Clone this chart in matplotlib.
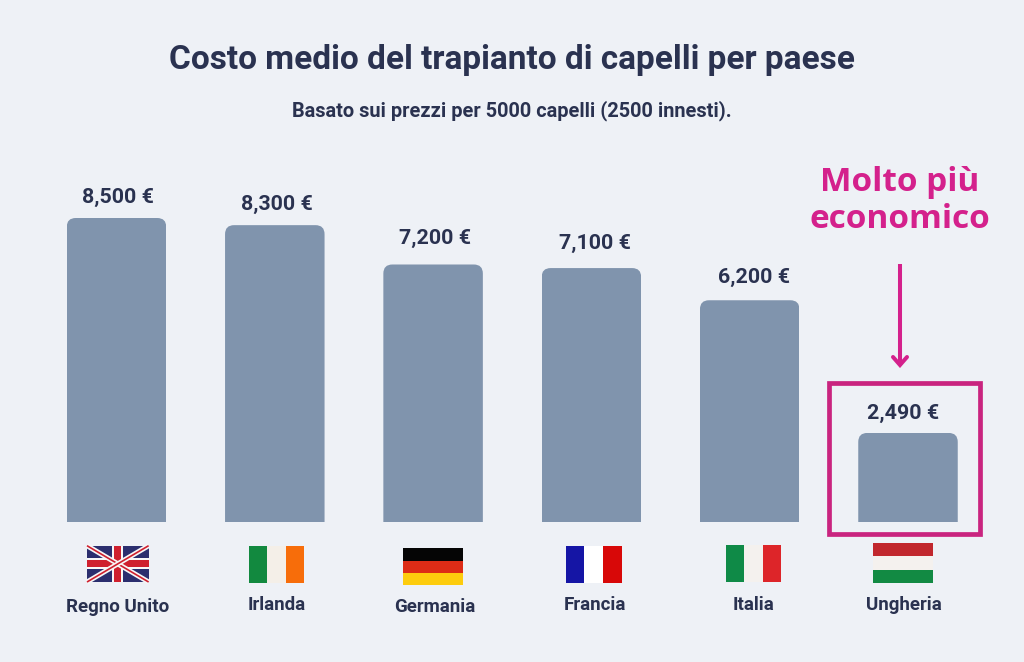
import matplotlib

matplotlib.use("Agg")
import matplotlib.pyplot as plt
from matplotlib.patches import FancyBboxPatch, Rectangle

COUNTRIES = ["Regno Unito", "Irlanda", "Germania", "Francia", "Italia", "Ungheria"]
COSTS = [8500, 8300, 7200, 7100, 6200, 2490]

TITLE = "Costo medio del trapianto di capelli per paese"
SUBTITLE = "Basato sui prezzi per 5000 capelli (2500 innesti)."
CALLOUT = "Molto più\neconomico"

BG = "#eef1f6"
BAR = "#8094ad"
DARK = "#2a3250"
PINK = "#d4218c"
BOX_PINK = "#c9247f"

# pixel layout of the original
W, H = 1024, 662
BASE_PX = 522
FIRST_PX = 116.5
STEP_PX = 158.3
PX_PER_EUR = 304 / 8500
BAR_WIDTH = 99.5 / STEP_PX
VALUE_DX = [1.5, 2, 1.5, 3.5, 4.5, -5]
VALUE_DY = [21, 21, 26.5, 25, 23, 20]
NAME_X = [118, 277, 435, 595, 754, 904]
NAME_Y = [607, 605, 607, 605, 605, 605]

fig = plt.figure(figsize=(W / 100, H / 100), dpi=100, facecolor=BG)
plt.rcParams["font.family"] = ["Roboto", "DejaVu Sans"]

# bars axes, spans the whole figure so bars land on the same pixels
ax = fig.add_axes([0, 0, 1, 1], facecolor="none")
ax.set_xlim(-FIRST_PX / STEP_PX, (W - FIRST_PX) / STEP_PX)
ax.set_ylim(-(H - BASE_PX) / PX_PER_EUR, BASE_PX / PX_PER_EUR)
ax.axis("off")

radius_x = 9 / STEP_PX
aspect = (1 / PX_PER_EUR) / (1 / STEP_PX)
for i, (cost, dx, dy) in enumerate(zip(COSTS, VALUE_DX, VALUE_DY)):
    # rounded top only: the box runs past the baseline and gets clipped there
    box = FancyBboxPatch(
        (i - BAR_WIDTH / 2, -500),
        BAR_WIDTH,
        cost + 500,
        boxstyle=f"round,pad=0,rounding_size={radius_x}",
        mutation_aspect=aspect,
        fc=BAR,
        ec="none",
    )
    ax.add_patch(box)
    clip = Rectangle(
        (i - BAR_WIDTH / 2, 0), BAR_WIDTH, cost, transform=ax.transData
    )
    box.set_clip_path(clip)
    ax.annotate(
        f"{cost:,} €",
        (i, cost),
        xytext=(dx * 0.72, dy * 0.72),
        textcoords="offset points",
        ha="center",
        va="center",
        fontsize=15.4,
        fontweight="bold",
        color=DARK,
    )

# overlay in pixels for the decorations
px = fig.add_axes([0, 0, 1, 1], facecolor="none")
px.set_xlim(0, W)
px.set_ylim(H, 0)
px.axis("off")


def rect(x0, y0, x1, y1, color):
    px.add_patch(Rectangle((x0, y0), x1 - x0, y1 - y0, fc=color, ec="none"))


def vstripes(x0, y0, x1, y1, colors):
    step = (x1 - x0) / 3
    for k, c in enumerate(colors):
        rect(x0 + k * step, y0, x0 + (k + 1) * step, y1, c)


def hstripes(x0, y0, x1, y1, colors):
    step = (y1 - y0) / 3
    for k, c in enumerate(colors):
        rect(x0, y0 + k * step, x1, y0 + (k + 1) * step, c)


def union_jack(x0, y0, x1, y1):
    blue, red, white = "#2b2e6e", "#cf202e", "#f7f7f7"
    cx, cy = (x0 + x1) / 2, (y0 + y1) / 2
    rect(x0, y0, x1, y1, blue)
    clip = Rectangle((x0, y0), x1 - x0, y1 - y0, transform=px.transData)
    for ys in [(y0, y1), (y1, y0)]:
        px.plot([x0, x1], ys, color=white, lw=3.6, solid_capstyle="butt", clip_path=clip)
        px.plot([x0, x1], ys, color=red, lw=1.2, solid_capstyle="butt", clip_path=clip)
    rect(cx - 5.5, y0, cx + 5.5, y1, white)
    rect(x0, cy - 5.5, x1, cy + 5.5, white)
    rect(cx - 3.5, y0, cx + 3.5, y1, red)
    rect(x0, cy - 3.5, x1, cy + 3.5, red)


union_jack(87, 545.7, 148.6, 582)
vstripes(248.7, 545.5, 304, 582.5, ["#12893f", "#f4efe8", "#f76d0a"])
hstripes(402.7, 548.3, 463.3, 585, ["#050505", "#dd2c16", "#fdcc0d"])
vstripes(565.7, 545.5, 621.7, 583, ["#1515a5", "#ffffff", "#d80808"])
vstripes(725.7, 545, 781, 582, ["#0f8a47", "#f4f1ee", "#dd2529"])
hstripes(872.7, 542.7, 933.3, 583, ["#c1272d", "#f4f1ee", "#128a43"])

for name, x, y in zip(COUNTRIES, NAME_X, NAME_Y):
    px.text(x, y, name, ha="center", va="center", fontsize=13.5,
            fontweight="bold", color=DARK)

px.text(512, 60, TITLE, ha="center", va="center", fontsize=24,
        fontweight="bold", color=DARK)
px.text(512, 110.5, SUBTITLE, ha="center", va="center", fontsize=14.45,
        fontweight="bold", color=DARK)

# highlight around the last bar
px.add_patch(Rectangle((829, 383), 150.5, 150.5, fc="none", ec=BOX_PINK, lw=3.4))
px.text(900, 201, CALLOUT, ha="center", va="center", fontsize=24,
        fontweight="bold", color=PINK, family="Open Sans", linespacing=1.16)
px.plot([900, 900], [264, 365], color=PINK, lw=2.9, solid_capstyle="butt")
px.plot([893, 900, 907], [357, 365, 357], color=PINK, lw=2.9,
        solid_capstyle="round", solid_joinstyle="miter")

fig.savefig("out.png", dpi=100, facecolor=BG)
